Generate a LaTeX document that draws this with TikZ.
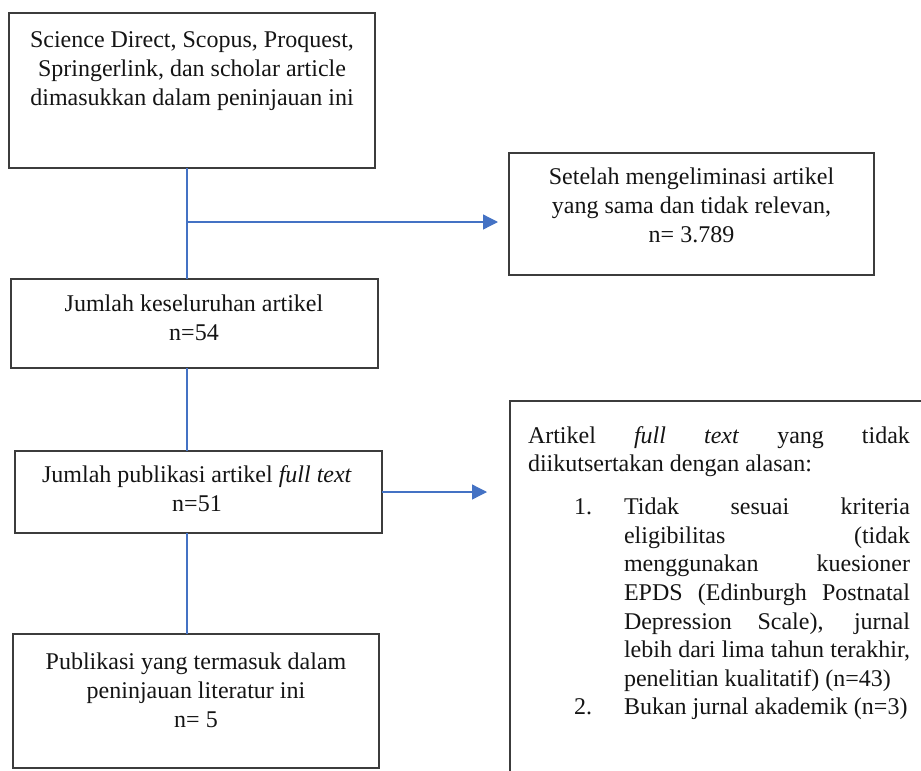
\documentclass[tikz,border=0pt]{standalone}
\usepackage{fontspec}
\setmainfont{Liberation Serif}
\usetikzlibrary{arrows.meta}
\definecolor{flowblue}{HTML}{4472C4}
\definecolor{frame}{HTML}{3C3C3C}
% centred block of lines whose first baseline is the node's base
\newcommand{\boxlines}[2]{\parbox[t]{#1}{\centering #2}}
% justified block with the line breaks given by hand
\newcommand{\justlines}[2]{\parbox[t]{#1}{\tolerance=10000\hyphenpenalty=10000\exhyphenpenalty=10000 #2}}

\begin{document}
\begin{tikzpicture}[x=1pt,y=-1pt,
  every node/.style={inner sep=0pt, outer sep=0pt},
  flowbox/.style={draw=frame, line width=1.3pt, anchor=north west},
  boxtext/.style={anchor=base, font=\fontsize{24}{29}\selectfont, text=black!92},
  listtext/.style={anchor=base west, font=\fontsize{24}{28.6}\selectfont, text=black!92},
  link/.style={draw=flowblue, line width=1.3pt},
  arrow/.style={link, -{Triangle[length=15pt,width=15pt]}}]

\useasboundingbox (0,0) rectangle (921,771);
\clip (0,0) rectangle (921,771);

% frames
\node[flowbox, minimum width=366pt, minimum height=155pt] (b1) at (9,13) {};
\node[flowbox, minimum width=365pt, minimum height=122pt] (b2) at (509,153) {};
\node[flowbox, minimum width=367pt, minimum height=89pt] (b3) at (11,279) {};
\node[flowbox, minimum width=367pt, minimum height=82pt] (b4) at (15,451) {};
\node[flowbox, minimum width=366pt, minimum height=134pt] (b5) at (13,634) {};
\node[flowbox, minimum width=430pt, minimum height=400pt] (b6) at (510,401) {};

% texts of the frames
\node[boxtext] (t1) at (192,47) {\boxlines{360pt}{Science Direct, Scopus, Proquest,\\Springerlink, dan scholar article\\dimasukkan dalam peninjauan ini}};
\node[boxtext] (t2) at (691.5,184) {\boxlines{360pt}{Setelah mengeliminasi artikel\\yang sama dan tidak relevan,\\n= 3.789}};
\node[boxtext] (t3) at (194,311) {\boxlines{360pt}{Jumlah keseluruhan artikel\\n=54}};
\node[boxtext] (t4) at (197,482) {\boxlines{360pt}{Jumlah publikasi artikel \textit{full text}\\n=51}};
\node[boxtext] (t5) at (196,669) {\boxlines{360pt}{Publikasi yang termasuk dalam\\peninjauan literatur ini\\n= 5}};

\node[listtext] (t6) at (528,443) {\justlines{382pt}{Artikel \textit{full text} yang tidak\linebreak diikutsertakan dengan alasan:}};
\node[listtext] (n1) at (574,514.6) {1.};
\node[listtext] (i1) at (624,514.6) {\justlines{286pt}{Tidak sesuai kriteria\linebreak eligibilitas (tidak\linebreak menggunakan kuesioner\linebreak EPDS (Edinburgh Postnatal\linebreak Depression Scale), jurnal\linebreak lebih dari lima tahun terakhir,\linebreak penelitian kualitatif) (n=43)}};
\node[listtext] (n2) at (574,714.8) {2.};
\node[listtext] (i2) at (624,714.8) {Bukan jurnal akademik (n=3)};

% connectors
\coordinate (spine) at (187,0);
\coordinate (fork) at (187,222);
\draw[link] (b1.south -| spine) -- (b3.north -| spine);
\draw[arrow, shorten >=11pt] (fork) -- (fork -| b2.west);
\draw[link] (b3.south -| spine) -- (b4.north -| spine);
\draw[arrow, shorten >=23pt] (b4.east) -- (b4.east -| b6.west);
\draw[link] (b4.south -| spine) -- (b5.north -| spine);
\end{tikzpicture}
\end{document}
